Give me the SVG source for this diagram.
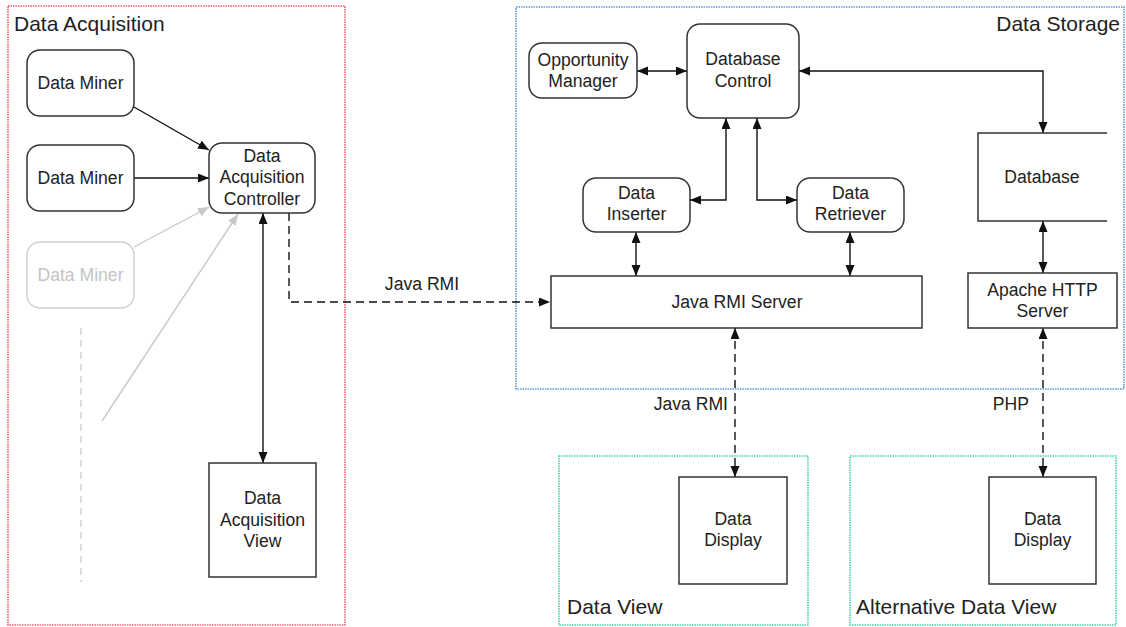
<svg xmlns="http://www.w3.org/2000/svg" width="1126" height="627" viewBox="0 0 1126 627">
  <style>
    text { font-family: "Liberation Sans", Arial, sans-serif; fill: #222; }
    .lbl { font-size: 17.6px; text-anchor: middle; }
    .title { font-size: 21px; }
    .node { fill: #fff; stroke: #333; stroke-width: 1.5; }
    .ghost { fill: #fff; stroke: #d0d0d0; stroke-width: 1.5; }
    .ghost-t { fill: #c4c4c4; }
    .edge { fill: none; stroke: #111; stroke-width: 1.4; }
    .dash { stroke-dasharray: 8 5; }
    .gedge { fill: none; stroke: #c8c8c8; stroke-width: 1.4; }
    .frame { fill: none; stroke-width: 1.6; stroke-dasharray: 1.5 1; }
  </style>
  <defs>
    <marker id="ah" markerUnits="userSpaceOnUse" markerWidth="12" markerHeight="10" refX="11" refY="4.5" orient="auto-start-reverse">
      <path d="M0,0 L11,4.5 L0,9 z" fill="#111"/>
    </marker>
    <marker id="ahg" markerUnits="userSpaceOnUse" markerWidth="12" markerHeight="10" refX="11" refY="4.5" orient="auto-start-reverse">
      <path d="M0,0 L11,4.5 L0,9 z" fill="#c8c8c8"/>
    </marker>
  </defs>

  <rect width="1126" height="627" fill="#fff"/>

  <!-- grouping frames -->
  <g id="frames">
    <rect class="frame" x="8" y="6" width="337" height="619" stroke="#e8646c"/>
    <text class="title" x="14" y="31">Data Acquisition</text>
    <rect class="frame" x="516" y="7" width="608" height="382" stroke="#5a9ad6"/>
    <text class="title" x="1120" y="31" text-anchor="end">Data Storage</text>
    <rect class="frame" x="559" y="456" width="249" height="169" stroke="#46cfa4"/>
    <text class="title" x="567" y="614">Data View</text>
    <rect class="frame" x="850" y="456" width="266" height="169" stroke="#46cfa4"/>
    <text class="title" x="856" y="614">Alternative Data View</text>
  </g>

  <!-- connectors -->
  <g id="connectors">
    <line class="edge" x1="134" y1="107" x2="209" y2="150" marker-end="url(#ah)"/>
    <line class="edge" x1="134" y1="178" x2="209" y2="178" marker-end="url(#ah)"/>
    <line class="gedge" x1="134" y1="247" x2="209" y2="207" marker-end="url(#ahg)"/>
    <line class="gedge" x1="102" y1="421" x2="238" y2="214" marker-end="url(#ahg)"/>
    <line x1="81" y1="328" x2="81" y2="582" stroke="#dedede" stroke-width="2" stroke-dasharray="7 5"/>
    <line class="edge" x1="263" y1="213" x2="263" y2="463" marker-start="url(#ah)" marker-end="url(#ah)"/>
    <polyline class="edge dash" points="289,213 289,302 550,302" marker-end="url(#ah)"/>
    <text class="lbl" x="422" y="290">Java RMI</text>

    <line class="edge" x1="637" y1="71" x2="687" y2="71" marker-start="url(#ah)" marker-end="url(#ah)"/>
    <polyline class="edge" points="799,71 1043,71 1043,133" marker-start="url(#ah)" marker-end="url(#ah)"/>
    <polyline class="edge" points="726,118 726,200 690,200" marker-start="url(#ah)" marker-end="url(#ah)"/>
    <polyline class="edge" points="757,118 757,200 797,200" marker-start="url(#ah)" marker-end="url(#ah)"/>
    <line class="edge" x1="636" y1="232" x2="636" y2="276" marker-start="url(#ah)" marker-end="url(#ah)"/>
    <line class="edge" x1="850" y1="232" x2="850" y2="276" marker-start="url(#ah)" marker-end="url(#ah)"/>
    <line class="edge" x1="1043" y1="221" x2="1043" y2="273" marker-start="url(#ah)" marker-end="url(#ah)"/>

    <line class="edge dash" x1="735" y1="328" x2="735" y2="477" marker-start="url(#ah)" marker-end="url(#ah)"/>
    <text class="lbl" x="728" y="410" style="text-anchor:end">Java RMI</text>
    <line class="edge dash" x1="1043" y1="328" x2="1043" y2="477" marker-start="url(#ah)" marker-end="url(#ah)"/>
    <text class="lbl" x="1029" y="410" style="text-anchor:end">PHP</text>
  </g>

  <!-- data acquisition nodes -->
  <g id="miner1">
    <rect class="node" x="27" y="50" width="107" height="66" rx="13"/>
    <text class="lbl" x="80.5" y="89">Data Miner</text>
  </g>
  <g id="miner2">
    <rect class="node" x="27" y="145" width="107" height="66" rx="13"/>
    <text class="lbl" x="80.5" y="184">Data Miner</text>
  </g>
  <g id="miner3">
    <rect class="ghost" x="27" y="242" width="107" height="66" rx="13"/>
    <text class="lbl ghost-t" x="80.5" y="281">Data Miner</text>
  </g>
  <g id="acq-controller">
    <rect class="node" x="209" y="143" width="106" height="70" rx="13"/>
    <text class="lbl" x="262" y="162">Data</text>
    <text class="lbl" x="262" y="183">Acquisition</text>
    <text class="lbl" x="262" y="205">Controller</text>
  </g>
  <g id="acq-view">
    <rect class="node" x="209" y="463" width="107" height="114"/>
    <text class="lbl" x="262.5" y="504">Data</text>
    <text class="lbl" x="262.5" y="526">Acquisition</text>
    <text class="lbl" x="262.5" y="547">View</text>
  </g>

  <!-- data storage nodes -->
  <g id="opportunity-manager">
    <rect class="node" x="529" y="43" width="108" height="55" rx="13"/>
    <text class="lbl" x="583" y="66">Opportunity</text>
    <text class="lbl" x="583" y="87">Manager</text>
  </g>
  <g id="database-control">
    <rect class="node" x="687" y="24" width="112" height="94" rx="13"/>
    <text class="lbl" x="743" y="65">Database</text>
    <text class="lbl" x="743" y="87">Control</text>
  </g>
  <g id="data-inserter">
    <rect class="node" x="583" y="178" width="107" height="54" rx="13"/>
    <text class="lbl" x="636.5" y="199">Data</text>
    <text class="lbl" x="636.5" y="220">Inserter</text>
  </g>
  <g id="data-retriever">
    <rect class="node" x="797" y="178" width="107" height="54" rx="13"/>
    <text class="lbl" x="850.5" y="199">Data</text>
    <text class="lbl" x="850.5" y="220">Retriever</text>
  </g>
  <g id="database">
    <rect x="978" y="133" width="129" height="88" fill="#fff"/>
    <path d="M1107,133 H978 V221 H1107" fill="none" stroke="#333" stroke-width="1.5"/>
    <text class="lbl" x="1042" y="183">Database</text>
  </g>
  <g id="rmi-server">
    <rect class="node" x="551" y="276" width="371" height="52"/>
    <text class="lbl" x="737" y="308">Java RMI Server</text>
  </g>
  <g id="apache">
    <rect class="node" x="968" y="273" width="149" height="55"/>
    <text class="lbl" x="1042.5" y="296">Apache HTTP</text>
    <text class="lbl" x="1042.5" y="317">Server</text>
  </g>

  <!-- view nodes -->
  <g id="data-display">
    <rect class="node" x="679" y="477" width="108" height="107"/>
    <text class="lbl" x="733" y="525">Data</text>
    <text class="lbl" x="733" y="546">Display</text>
  </g>
  <g id="alt-data-display">
    <rect class="node" x="989" y="477" width="107" height="107"/>
    <text class="lbl" x="1042.5" y="525">Data</text>
    <text class="lbl" x="1042.5" y="546">Display</text>
  </g>
</svg>
